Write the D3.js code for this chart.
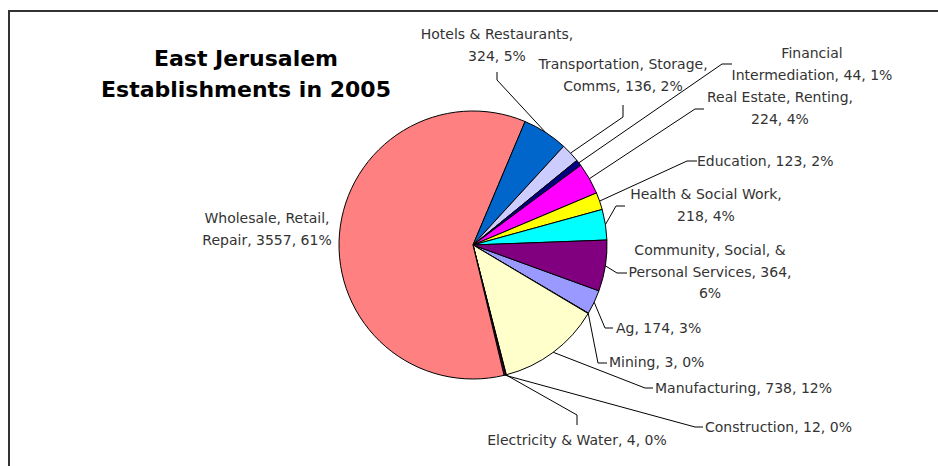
<!DOCTYPE html>
<html>
<head>
<meta charset="utf-8">
<script src="https://cdn.jsdelivr.net/npm/d3@7"></script>
<style>
  html, body { margin: 0; padding: 0; background: #fff; }
  svg { display: block; }
  text { font-family: "DejaVu Sans", sans-serif; }
</style>
</head>
<body>
<svg id="chart" width="938" height="466"></svg>
<script>
// Establishments by sector, in drawing order (clockwise)
const categories = [
  "Ag", "Mining", "Manufacturing", "Electricity & Water", "Construction",
  "Wholesale, Retail, Repair", "Hotels & Restaurants",
  "Transportation, Storage, Comms", "Financial Intermediation",
  "Real Estate, Renting", "Education", "Health & Social Work",
  "Community, Social, & Personal Services"
];
const values = [174, 3, 738, 4, 12, 3557, 324, 136, 44, 224, 123, 218, 364];
// Percentages as printed in the data labels
const shares = [3, 0, 12, 0, 0, 61, 5, 2, 1, 4, 2, 4, 6];
const colors = [
  "#9999FF", "#993366", "#FFFFCC", "#CCFFFF", "#660066", "#FF8080",
  "#0066CC", "#CCCCFF", "#000080", "#FF00FF", "#FFFF00", "#00FFFF", "#800080"
];
const titleLines = ["East Jerusalem", "Establishments in 2005"];

// Label placement: words per line, first baseline, anchor, leader elbow + end
const labelLayout = [
  { lines: [5],    x: 616, y: 333, anchor: "start",  leader: [[605, 328], [613, 328]] },
  { lines: [3],    x: 609, y: 367, anchor: "start",  leader: [[598, 363], [607, 363]] },
  { lines: [3],    x: 655, y: 393, anchor: "start",  leader: [[645, 388], [653, 388]] },
  { lines: [5],    x: 577, y: 445, anchor: "middle", leader: [[577, 415], [577, 425]] },
  { lines: [3],    x: 705, y: 432, anchor: "start",  leader: [[695, 427], [703, 427]] },
  { lines: [2, 3], x: 267, y: 223, anchor: "middle", leader: null },
  { lines: [3, 2], x: 497, y: 39,  anchor: "middle", leader: [[497, 80], [497, 72]] },
  { lines: [2, 3], x: 623, y: 69,  anchor: "middle", leader: [[623, 117], [623, 105]] },
  { lines: [1, 3], x: 812, y: 58,  anchor: "middle", leader: [[722, 64], [732, 64]] },
  { lines: [3, 2], x: 780, y: 102, anchor: "middle", leader: [[695, 109], [704, 109]] },
  { lines: [3],    x: 697, y: 166, anchor: "start",  leader: [[687, 161], [697, 161]] },
  { lines: [4, 2], x: 706, y: 199, anchor: "middle", leader: [[616, 206], [625, 206]] },
  { lines: [3, 3, 1], x: 710, y: 255, anchor: "middle", leader: [[617, 273], [627, 273]] }
];

const svg = d3.select("#chart");
const cx = 473, cy = 245, radius = 134;
const lineHeight = 21.5;
const textColor = "#333333";

// Chart area frame
svg.append("rect")
  .attr("x", 9).attr("y", 11)
  .attr("width", 1000).attr("height", 1000)
  .attr("fill", "#fff")
  .attr("stroke", "#333").attr("stroke-width", 2);

const data = categories.map((name, i) => ({ name, value: values[i], share: shares[i], color: colors[i], layout: labelLayout[i] }));

const start = 110 * Math.PI / 180;
const pie = d3.pie().value(d => d.value).sort(null)
  .startAngle(start).endAngle(start + 2 * Math.PI);
const arcs = pie(data);
const arc = d3.arc().innerRadius(0).outerRadius(radius);

const g = svg.append("g").attr("transform", `translate(${cx},${cy})`);
g.selectAll("path.slice")
  .data(arcs)
  .join("path")
  .attr("class", "slice")
  .attr("d", arc)
  .attr("fill", d => d.data.color)
  .attr("stroke", "#000")
  .attr("stroke-width", 1)
  .attr("stroke-linejoin", "round");

// Leader lines from slice edge to label
const line = d3.line();
arcs.forEach(a => {
  const L = a.data.layout;
  if (!L.leader) return;
  const mid = (a.startAngle + a.endAngle) / 2;
  const p0 = [cx + Math.sin(mid) * radius, cy - Math.cos(mid) * radius];
  svg.append("path")
    .attr("d", line([p0, ...L.leader]))
    .attr("fill", "none")
    .attr("stroke", "#000")
    .attr("stroke-width", 1);
});

// Data labels: "name, value, pct%" wrapped by word counts
arcs.forEach(a => {
  const d = a.data, L = d.layout;
  const words = `${d.name}, ${d.value}, ${d.share}%`.split(" ");
  const rows = [];
  let k = 0;
  L.lines.forEach(n => { rows.push(words.slice(k, k + n).join(" ")); k += n; });
  if (k < words.length) rows[rows.length - 1] += " " + words.slice(k).join(" ");
  const t = svg.append("text")
    .attr("text-anchor", L.anchor)
    .attr("font-size", 14)
    .attr("fill", textColor);
  rows.forEach((r, i) => {
    t.append("tspan").attr("x", L.x).attr("y", L.y + i * lineHeight).text(r);
  });
});

// Title
const title = svg.append("text")
  .attr("text-anchor", "middle")
  .attr("font-size", 22)
  .attr("font-weight", "bold")
  .attr("fill", "#000");
titleLines.forEach((s, i) => {
  title.append("tspan").attr("x", 246).attr("y", 66 + i * 31).text(s);
});
</script>
</body>
</html>
